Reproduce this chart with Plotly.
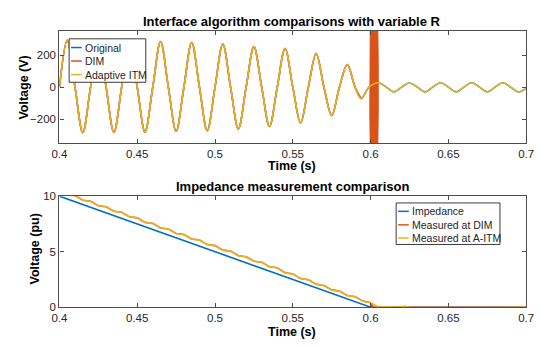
import plotly.graph_objects as go

# ---------------- data ----------------
# Top panel: voltage waveforms (V), sampled at zero crossings and extrema
wave_t = [0.400, 0.405, 0.410, 0.415, 0.420, 0.425, 0.430, 0.435, 0.440, 0.445,
          0.450, 0.455, 0.460, 0.465, 0.470, 0.475, 0.480, 0.485, 0.490, 0.495,
          0.500, 0.505, 0.510, 0.515, 0.520, 0.525, 0.530, 0.535, 0.540, 0.545,
          0.550, 0.555, 0.560, 0.565, 0.570, 0.575, 0.580, 0.585, 0.590, 0.594,
          0.599, 0.605, 0.610, 0.615, 0.620, 0.625, 0.630, 0.635, 0.640, 0.645,
          0.650, 0.655, 0.660, 0.665, 0.670, 0.675, 0.680, 0.685, 0.690, 0.695,
          0.700]
original_v = [0, 292, 0, -285, 0, 290, 0, -283, 0, 288,
              0, -280, 0, 285, 0, -276, 0, 279, 0, -273,
              0, 269, 0, -261, 0, 253, 0, -246, 0, 241,
              0, -224, 0, 210, 0, -177, 0, 141, 0, -72,
              0, 27, 0, -30, 0, 26, 0, -30, 0, 27,
              0, -30, 0, 27, 0, -30, 0, 27, 0, -30,
              -8]
aitm_v = [0, 292, 0, -285, 0, 290, 0, -283, 0, 288,
          0, -280, 0, 285, 0, -276, 0, 279, 0, -273,
          0, 269, 0, -261, 0, 253, 0, -246, 0, 241,
          0, -224, 0, 210, 0, -177, 0, 141, 0, -72,
          0, 27, 0, -30, 0, 26, 0, -30, 0, 27,
          0, -30, 0, 27, 0, -30, 0, 27, 0, -30,
          -8]
# DIM follows the original until it becomes unstable at ~0.6 s
dim_t = wave_t[:40]
dim_v = original_v[:40]
# DIM unstable burst: outline of the dense oscillation band (t, V)
dim_burst_t = [0.5998, 0.5995, 0.5993, 0.5995, 0.5998, 0.6046, 0.6049, 0.6051, 0.6049, 0.6046, 0.5998]
dim_burst_v = [400, 150, 0, -150, -400, -400, -150, 0, 150, 400, 400]

# Bottom panel: impedance (pu)
imp_t = [0.40, 0.60, 0.70]
imp_v = [10, 0, 0]
meas_t = [0.400, 0.405, 0.410, 0.415, 0.420, 0.425, 0.430, 0.435, 0.440, 0.445,
          0.450, 0.455, 0.460, 0.465, 0.470, 0.475, 0.480, 0.485, 0.490, 0.495,
          0.500, 0.505, 0.510, 0.515, 0.520, 0.525, 0.530, 0.535, 0.540, 0.545,
          0.550, 0.555, 0.560, 0.565, 0.570, 0.575, 0.580, 0.585, 0.590, 0.595,
          0.600, 0.605, 0.610, 0.620, 0.622, 0.624, 0.700]
aitm_pu = [10.55, 10.14, 10.05, 9.64, 9.55, 9.14, 9.05, 8.64, 8.55, 8.14,
           8.05, 7.64, 7.55, 7.14, 7.05, 6.64, 6.55, 6.14, 6.05, 5.64,
           5.55, 5.14, 5.05, 4.64, 4.55, 4.14, 4.05, 3.64, 3.55, 3.10,
           3.00, 2.58, 2.48, 2.06, 1.96, 1.56, 1.45, 1.05, 0.95, 0.55,
           0.40, 0.05, 0.02, 0.0, 0.10, 0.0, 0.0]
dim_pu_t = meas_t[:41] + [0.6005, 0.6010, 0.6015, 0.700]
dim_pu = aitm_pu[:41] + [0.0, 0.25, 0.0, 0.0]

x_ticks = [0.4, 0.45, 0.5, 0.55, 0.6, 0.65, 0.7]
x_ticktext = ['0.4', '0.45', '0.5', '0.55', '0.6', '0.65', '0.7']
top_yticks = [-200, 0, 200]
bot_yticks = [0, 5, 10]

top_names = ['Original', 'DIM', 'Adaptive ITM']
bot_names = ['Impedance', 'Measured at DIM', 'Measured at A-ITM']

C_BLUE = '#0072BD'
C_ORANGE = '#D95319'
C_YELLOW = '#EDB120'
AX = '#262626'
FRAME = '#4d4d4d'
FONT = 'Liberation Sans, Arial, Helvetica, sans-serif'

W, H = 540, 347


def px(x):
    return x / W


def py(y):
    return (H - y) / H


fig = go.Figure()
lw = 1.6
fig.add_trace(go.Scatter(x=wave_t, y=original_v, mode='lines', line=dict(color=C_BLUE, width=lw, shape='spline'),
                         xaxis='x', yaxis='y', showlegend=False))
fig.add_trace(go.Scatter(x=dim_t, y=dim_v, mode='lines', line=dict(color=C_ORANGE, width=lw, shape='spline'),
                         xaxis='x', yaxis='y', showlegend=False))
fig.add_trace(go.Scatter(x=dim_burst_t, y=dim_burst_v, mode='lines', fill='toself', fillcolor=C_ORANGE,
                         line=dict(color=C_ORANGE, width=1), xaxis='x', yaxis='y', showlegend=False))
fig.add_trace(go.Scatter(x=wave_t, y=aitm_v, mode='lines', line=dict(color=C_YELLOW, width=lw, shape='spline'),
                         xaxis='x', yaxis='y', showlegend=False))

fig.add_trace(go.Scatter(x=imp_t, y=imp_v, mode='lines', line=dict(color=C_BLUE, width=lw),
                         xaxis='x2', yaxis='y2', showlegend=False))
fig.add_trace(go.Scatter(x=dim_pu_t, y=dim_pu, mode='lines', line=dict(color=C_ORANGE, width=lw),
                         xaxis='x2', yaxis='y2', showlegend=False))
fig.add_trace(go.Scatter(x=meas_t, y=aitm_pu, mode='lines', line=dict(color=C_YELLOW, width=lw, shape='spline'),
                         xaxis='x2', yaxis='y2', showlegend=False))

axis_common = dict(showline=True, linecolor=FRAME, linewidth=1.2, mirror='ticks', ticks='inside',
                   ticklen=4, tickcolor=FRAME, tickwidth=1.2, showgrid=False, zeroline=False,
                   ticklabeloverflow='allow',
                   tickfont=dict(family=FONT, size=11.5, color=AX))

xdom = [px(53), px(534)]
fig.update_layout(
    width=W, height=H,
    margin=dict(l=0, r=0, t=0, b=0),
    paper_bgcolor='white', plot_bgcolor='white',
    showlegend=False,
    xaxis=dict(domain=xdom, range=[0.4, 0.7], tickvals=x_ticks, ticktext=x_ticktext, anchor='y', **axis_common),
    yaxis=dict(domain=[py(142), py(26)], range=[-350, 350], tickvals=top_yticks, anchor='x', **axis_common),
    xaxis2=dict(domain=xdom, range=[0.4, 0.7], tickvals=x_ticks, ticktext=x_ticktext, anchor='y2', **axis_common),
    yaxis2=dict(domain=[py(312), py(197)], range=[0, 10], tickvals=bot_yticks, anchor='x2', **axis_common),
)

ann = []


def text(x, y, s, size, bold=False, angle=0, xanchor='center'):
    ann.append(dict(x=px(x), y=py(y), xref='paper', yref='paper', text=('<b>%s</b>' % s) if bold else s,
                    showarrow=False, xanchor=xanchor, yanchor='middle', textangle=angle,
                    font=dict(family=FONT, size=size, color='#000000' if bold else AX)))


text(293, 16, 'Interface algorithm comparisons with variable R', 13, bold=True)
text(293, 166, 'Time (s)', 12.5, bold=True)
text(17, 84, 'Voltage (V)', 12.5, bold=True, angle=-90)
text(293, 187, 'Impedance measurement comparison', 13, bold=True)
text(293, 338, 'Time (s)', 12.5, bold=True)
text(28, 252, 'Voltage (pu)', 12.5, bold=True, angle=-90)

shapes = []


def legend(x0, y0, x1, y1, ys, names, colors):
    shapes.append(dict(type='rect', xref='paper', yref='paper', x0=px(x0), x1=px(x1), y0=py(y1), y1=py(y0),
                       fillcolor='white', line=dict(color=AX, width=0.9), layer='above'))
    for yy, nm, c in zip(ys, names, colors):
        shapes.append(dict(type='line', xref='paper', yref='paper', x0=px(x0 + 2), x1=px(x0 + 13),
                           y0=py(yy), y1=py(yy), line=dict(color=c, width=1.5), layer='above'))
        text(x0 + 14, yy, nm, 10.5, xanchor='left')


legend(63, 34, 142, 79, [43, 57, 71], top_names, [C_BLUE, C_ORANGE, C_YELLOW])
legend(400, 204, 507, 247, [212.7, 226.7, 240.3], bot_names, [C_BLUE, C_ORANGE, C_YELLOW])

fig.update_layout(annotations=ann, shapes=shapes)
fig.write_html('out.html', config={'displayModeBar': False},
               post_script="document.body.style.margin='0';document.body.style.overflow='hidden';")
